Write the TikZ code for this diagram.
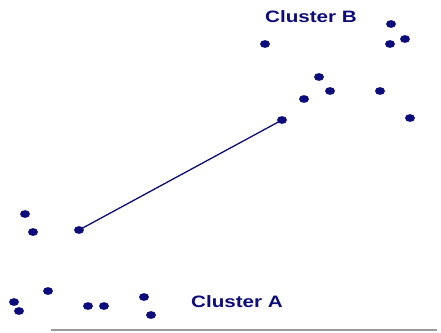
\documentclass[tikz,border=0pt]{standalone}
\usepackage{fontspec}
\setmainfont{Liberation Sans}
\definecolor{navy}{HTML}{0C0C7A}
\begin{document}
\begin{tikzpicture}[x=1pt,y=-1pt,
  lbl/.style={text=navy,font=\fontsize{16.5}{18}\selectfont\bfseries,inner sep=0pt,xscale=1.25}]
\useasboundingbox (0,0) rectangle (441,332);
\foreach \n/\x/\y in {b1/265/44,b2/391/24,b3/405/39,b4/390/44,b5/319/77,b6/330/91,b7/304/99,b8/380/91,b9/282/120,b10/410/118,
  a1/25/214,a2/33/232,a3/79/230,a4/48/291,a5/14/302,a6/19/311,a7/88/306,a8/104/306,a9/144/297,a10/151/315}
  \fill[navy] (\x,\y) ellipse (5pt and 3.9pt) coordinate (\n);
\draw[navy,line width=1.3pt] (a3) -- (b9);
\node[lbl] (la) at (237,302) {Cluster A};
\node[lbl] (lb) at (311,17) {Cluster B};
\draw[gray!80,line width=2.5pt] (51,330) coordinate (g1) -- (437,330) coordinate (g2);
\end{tikzpicture}
\end{document}
